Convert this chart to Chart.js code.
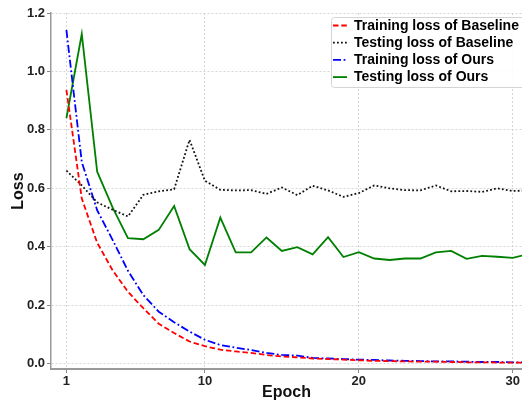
<!DOCTYPE html>
<html>
<head>
<meta charset="utf-8">
<script src="https://cdn.jsdelivr.net/npm/chart.js@4"></script>
<style>
  html, body { margin: 0; padding: 0; background: #fff; }
</style>
</head>
<body>
<canvas id="grafica-loss" width="522" height="403"></canvas>
<script>
// valores leídos a ojo de la figura original
const epocas = [1, 2, 3, 4, 5, 6, 7, 8, 9, 10, 11, 12, 13, 14, 15, 16, 17, 18, 19, 20, 21, 22, 23, 24, 25, 26, 27, 28, 29, 30, 31];

const trainBaseline = [0.937, 0.565, 0.414, 0.32, 0.246, 0.19, 0.137, 0.105, 0.076, 0.06, 0.048, 0.042, 0.037, 0.03, 0.025,
  0.022, 0.018, 0.016, 0.014, 0.012, 0.01, 0.009, 0.008, 0.007, 0.007, 0.006, 0.005, 0.005, 0.004, 0.004, 0.004];
const testBaseline = [0.661, 0.61, 0.552, 0.527, 0.504, 0.578, 0.59, 0.597, 0.766, 0.626, 0.595, 0.593, 0.594, 0.581, 0.603,
  0.577, 0.609, 0.593, 0.571, 0.584, 0.61, 0.6, 0.594, 0.593, 0.61, 0.59, 0.591, 0.588, 0.6, 0.591, 0.593];
const trainOurs = [1.142, 0.69, 0.525, 0.424, 0.318, 0.235, 0.178, 0.142, 0.11, 0.082, 0.064, 0.055, 0.047, 0.037, 0.03,
  0.028, 0.02, 0.018, 0.016, 0.014, 0.013, 0.011, 0.01, 0.009, 0.008, 0.008, 0.007, 0.006, 0.006, 0.005, 0.005];
const testOurs = [0.84, 1.128, 0.657, 0.535, 0.43, 0.426, 0.458, 0.54, 0.392, 0.338, 0.5, 0.381, 0.381, 0.432, 0.386,
  0.399, 0.374, 0.433, 0.365, 0.382, 0.36, 0.355, 0.36, 0.36, 0.381, 0.386, 0.359, 0.369, 0.366, 0.362, 0.375];

const ticksX = [1, 10, 20, 30];
const ticksY = [0, 0.2, 0.4, 0.6, 0.8, 1.0, 1.2];

const FUENTE = '"Liberation Sans", Arial, sans-serif';

// leyenda dentro del área, arriba a la derecha (como la de matplotlib)
const leyendaDentro = {
  id: 'leyendaDentro',
  afterDraw(chart) {
    const ctx = chart.ctx;
    ctx.save();
    ctx.fillStyle = 'rgba(255,255,255,0.9)';
    ctx.strokeStyle = '#d4d4d4';
    ctx.lineWidth = 1;
    ctx.beginPath();
    ctx.roundRect(331.5, 17.5, 200, 70, 3);
    ctx.fill();
    ctx.stroke();
    chart.data.datasets.forEach((ds, i) => {
      const y = 25.5 + i * 17.2;
      ctx.strokeStyle = ds.borderColor;
      ctx.lineWidth = ds.borderWidth;
      ctx.setLineDash(ds.borderDash || []);
      ctx.beginPath();
      ctx.moveTo(333, y);
      ctx.lineTo(347, y);
      ctx.stroke();
      ctx.setLineDash([]);
      ctx.fillStyle = '#000';
      ctx.font = 'bold 14px ' + FUENTE;
      ctx.textBaseline = 'middle';
      ctx.fillText(ds.label, 354, y + 0.5);
    });
    ctx.restore();
  }
};

const serie = (label, data, color, dash) => ({
  label,
  data: epocas.map((e, i) => ({ x: e, y: data[i] })),
  borderColor: color,
  backgroundColor: color,
  borderWidth: 1.8,
  borderDash: dash,
  pointRadius: 0,
  tension: 0,
  fill: false,
});

new Chart(document.getElementById('grafica-loss'), {
  type: 'line',
  data: {
    datasets: [
      serie('Training loss of Baseline', trainBaseline, '#ff0000', [5.5, 2.8]),
      serie('Testing loss of Baseline', testBaseline, '#111111', [1.8, 2.2]),
      serie('Training loss of Ours', trainOurs, '#0000ff', [8, 2.6, 1.8, 2.6]),
      serie('Testing loss of Ours', testOurs, '#008000', []),
    ],
  },
  options: {
    responsive: false,
    animation: false,
    layout: { padding: { top: 13, right: 0, left: 0, bottom: 0 } },
    plugins: {
      legend: { display: false },
      tooltip: { enabled: false },
    },
    scales: {
      x: {
        type: 'linear',
        min: 0.0,
        max: 30.6,
        afterBuildTicks: (s) => { s.ticks = ticksX.map(v => ({ value: v })); },
        afterFit: (s) => { s.height = 34; },
        ticks: { color: '#222', font: { family: FUENTE, size: 13, weight: 'bold' }, padding: 1, maxRotation: 0 },
        grid: { color: '#cccccc', lineWidth: 0.8, tickLength: 4, tickColor: '#888', tickWidth: 1 },
        border: { display: true, color: '#999', width: 2, dash: [2, 2] },
        title: { display: true, text: 'Epoch', color: '#111', font: { family: FUENTE, size: 16, weight: 'bold' }, padding: { top: 0, bottom: 1 } },
      },
      y: {
        min: -0.018,
        max: 1.2,
        afterBuildTicks: (s) => { s.ticks = ticksY.map(v => ({ value: v })); },
        afterFit: (s) => { s.width = 51; },
        ticks: { color: '#222', font: { family: FUENTE, size: 13, weight: 'bold' }, padding: 2, callback: (v) => v.toFixed(1) },
        grid: { color: '#cccccc', lineWidth: 0.8, tickLength: 4, tickColor: '#888', tickWidth: 1 },
        border: { display: true, color: '#999', width: 1.5, dash: [2, 2] },
        title: { display: true, text: 'Loss', color: '#111', font: { family: FUENTE, size: 16, weight: 'bold' }, padding: { top: 9, bottom: 0 } },
      },
    },
  },
  plugins: [leyendaDentro],
});
</script>
</body>
</html>
